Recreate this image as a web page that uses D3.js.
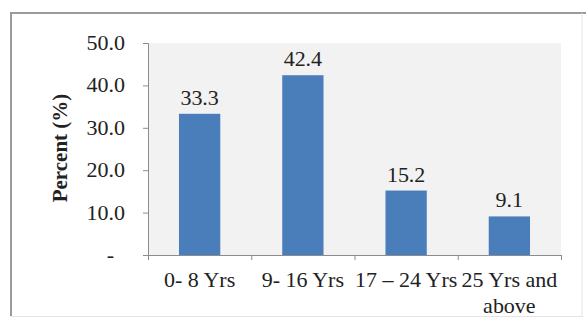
<!DOCTYPE html>
<html><head><meta charset="utf-8">
<script src="https://cdn.jsdelivr.net/npm/d3@7"></script>
<style>body{margin:0;background:#fff}svg{display:block}</style>
</head><body>
<svg id="c" width="586" height="323"></svg>
<script>
const categories = [["0- 8 Yrs"], ["9- 16 Yrs"], ["17 \u2013 24 Yrs"], ["25 Yrs and", "above"]];
const values = [33.3, 42.4, 15.2, 9.1];
const yTicks = [0, 10, 20, 30, 40, 50];
const yLabel = "Percent (%)";

const svg = d3.select("#c");
const font = "'Liberation Serif','Times New Roman',serif";
const L = 148, R = 561, T = 43, B = 255;
const SX = 1.1, FS = 20;

// outer border
svg.append("line").attr("x1",11).attr("y1",13).attr("x2",11).attr("y2",316).attr("stroke","#9a9a9a").attr("stroke-width",2);
svg.append("line").attr("x1",10).attr("y1",13).attr("x2",586).attr("y2",13).attr("stroke","#9a9a9a").attr("stroke-width",2);
svg.append("line").attr("x1",582).attr("y1",13).attr("x2",582).attr("y2",316).attr("stroke","#e4e4e4").attr("stroke-width",1);
svg.append("line").attr("x1",11).attr("y1",316.5).attr("x2",583).attr("y2",316.5).attr("stroke","#e4e4e4").attr("stroke-width",1);

// plot bg
svg.append("rect").attr("x",L).attr("y",T).attr("width",R-L).attr("height",B-T).attr("fill","#f2f2f2");

const x = d3.scaleBand().domain(d3.range(categories.length)).range([L, R]).paddingInner(0.6).paddingOuter(0.3);
const y = d3.scaleLinear().domain([0, 50]).range([B, T]);

svg.append("g").selectAll("rect").data(values).join("rect")
  .attr("x",(d,i)=>x(i)).attr("y",d=>y(d)).attr("width",x.bandwidth()).attr("height",d=>y(0)-y(d))
  .attr("fill","#4a7ebb");

svg.append("g").selectAll("text").data(values).join("text")
  .attr("transform",(d,i)=>`translate(${x(i)+x.bandwidth()/2},${y(d)-9}) scale(${SX},1)`)
  .attr("text-anchor","middle").attr("font-family",font).attr("font-size",FS).attr("fill","#222")
  .text(d=>d.toFixed(1));

// y axis
const yAxis = d3.axisLeft(y).tickValues(yTicks).tickSize(5).tickFormat(d=>d===0?"-":d.toFixed(1));
const ya = svg.append("g").attr("transform",`translate(${L},0)`).call(yAxis);
ya.select(".domain").attr("stroke","#8c8c8c");
ya.selectAll(".tick line").attr("stroke","#8c8c8c");
ya.selectAll(".tick text").attr("font-family",font).attr("font-size",FS).attr("fill","#222")
  .attr("x",d=>(d===0?-34:-23)/SX).attr("transform",`scale(${SX},1)`);

// x axis
const xb = d3.scaleLinear().domain([0, categories.length]).range([L, R]);
const xa = svg.append("g").attr("transform",`translate(0,${B})`)
  .call(d3.axisBottom(xb).tickValues(d3.range(0, categories.length+1)).tickSize(5).tickFormat(""));
xa.select(".domain").attr("stroke","#8c8c8c");
xa.selectAll(".tick line").attr("stroke","#8c8c8c");

const xl = svg.append("g").selectAll("text").data(categories).join("text")
  .attr("text-anchor","middle").attr("font-family",font).attr("font-size",FS).attr("fill","#222")
  .attr("transform",(d,i)=>`translate(${x(i)+x.bandwidth()/2},287) scale(${SX},1)`);
xl.selectAll("tspan").data(d=>d).join("tspan").attr("x",0).attr("dy",(d,j)=>j?26:0).text(d=>d);

svg.append("text").attr("transform",`translate(67,148) rotate(-90) scale(1.05,1)`)
  .attr("text-anchor","middle").attr("font-family",font).attr("font-size",FS).attr("font-weight","bold").attr("fill","#222")
  .text(yLabel);
</script>
</body></html>
